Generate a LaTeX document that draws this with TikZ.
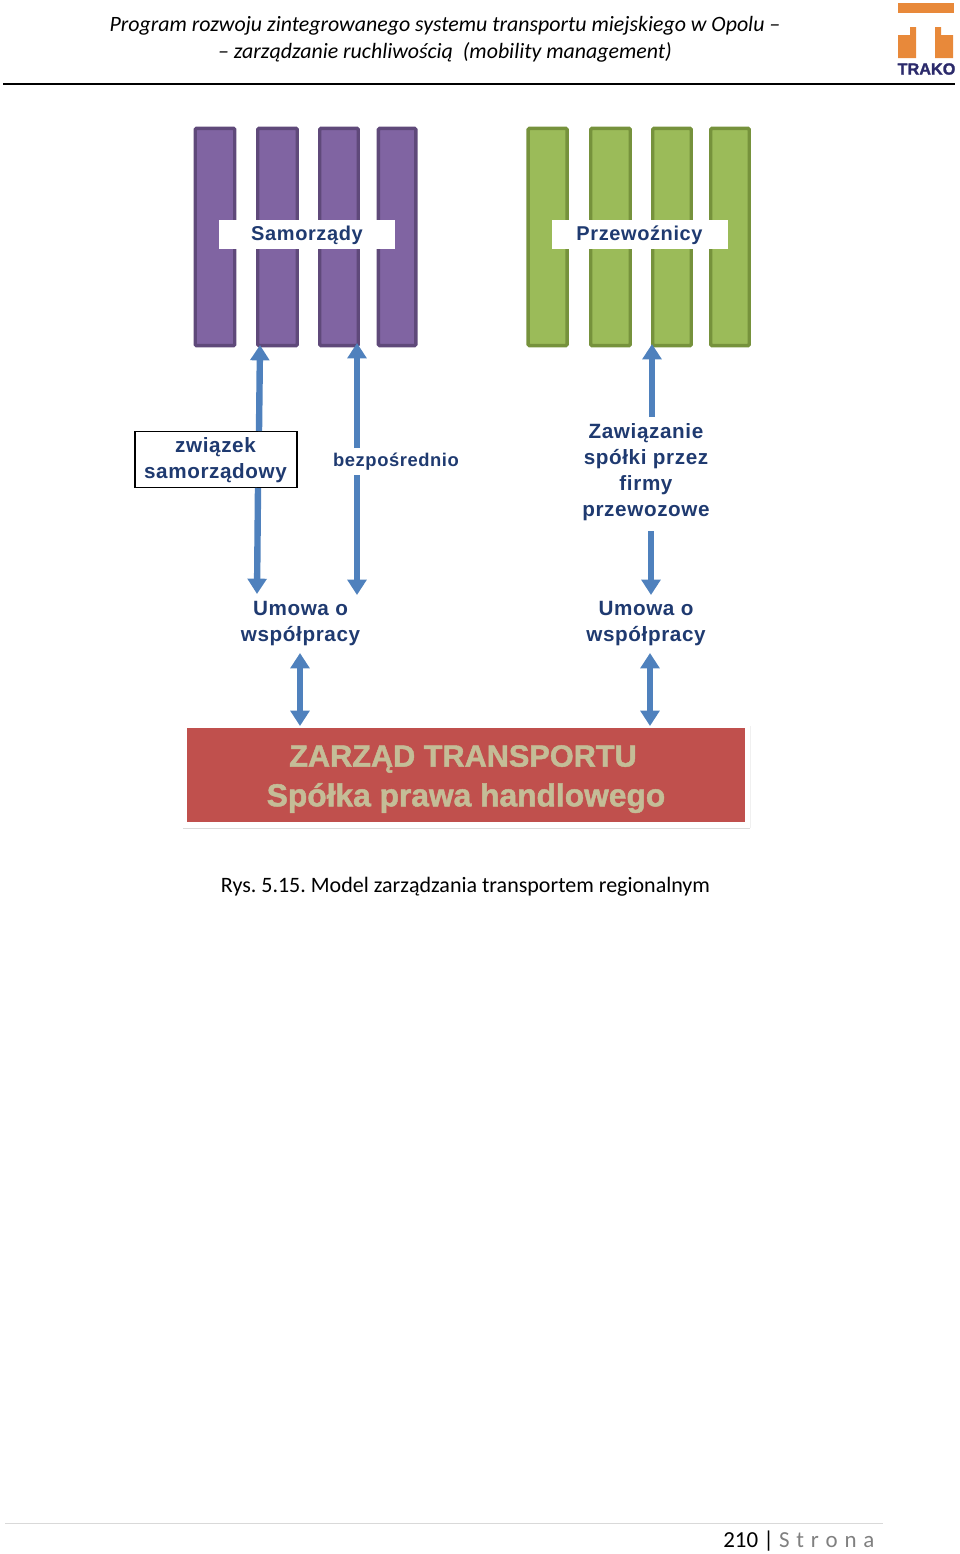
\documentclass[tikz,border=0pt]{standalone}
\usepackage{fontspec}
\setmainfont{Carlito}
\newfontfamily\lab[LetterSpace=3]{Liberation Sans}
\newfontfamily\hlab{Liberation Sans}
\newfontfamily\zfont[BoldFeatures={FakeBold=1.5}]{Liberation Sans}
\usetikzlibrary{arrows.meta}
\definecolor{purp}{HTML}{8064A2}
\definecolor{purpd}{HTML}{5F497A}
\definecolor{gree}{HTML}{9BBB59}
\definecolor{greed}{HTML}{76923C}
\definecolor{arrb}{HTML}{4F81BD}
\definecolor{navy}{HTML}{1F3A70}
\definecolor{redb}{HTML}{C0504D}
\definecolor{tan}{HTML}{C4BD97}
\definecolor{oran}{HTML}{E8893A}
\definecolor{trako}{HTML}{2B2A6B}
\tikzset{
 barp/.style={draw=purpd,fill=purp,line width=2.6pt,rounded corners=1pt,minimum height=217.3*0.75pt,outer sep=0pt,inner sep=0pt},
 barg/.style={draw=greed,fill=gree,line width=2.6pt,rounded corners=1pt,minimum height=217.3*0.75pt,outer sep=0pt,inner sep=0pt},
 whitelab/.style={fill=white,minimum width=132pt,minimum height=21.5pt,inner sep=0pt},
 whitetxt/.style={inner sep=0pt,font=\lab\bfseries\fontsize{15}{18}\selectfont,text=navy},
 difflab/.style={align=center,font=\lab\bfseries\fontsize{15.5}{19.5}\selectfont,text=navy,inner sep=0pt},
 arr/.style={draw=arrb,line width=4.8pt,-{Triangle[length=11.5pt,width=14pt]}},
 darr/.style={draw=arrb,line width=4.8pt,{Triangle[length=11.5pt,width=14pt]}-{Triangle[length=11.5pt,width=14pt]}},
}
\begin{document}
\begin{tikzpicture}[x=0.75pt,y=-0.75pt]
\useasboundingbox (0,0) rectangle (960,1554);
% header
\node[font=\itshape\fontsize{16.4}{20}\selectfont,align=center,inner sep=0pt] (head) at (445,39.5) {Program rozwoju zintegrowanego systemu transportu miejskiego w Opolu –\\– zarządzanie ruchliwością~ (mobility management)};
\draw[black,line width=1.2pt] (3,84) -- (955,84);
% logo
\fill[oran] (898,3) rectangle (954,13);
\fill[oran] (898,35) -- (910,35) -- (910,27) -- (916,27) -- (916,58) -- (898,58) -- cycle;
\fill[oran] (935,27) -- (941,27) -- (941,35) -- (953,35) -- (953,58) -- (935,58) -- cycle;
\node[font=\zfont\bfseries\fontsize{12.2}{14}\selectfont,text=trako,inner sep=0pt] (logo) at (926.5,69) {TRAKO};
% purple bars
\node[barp,minimum width=39.5pt*0.75] (s1) at (215,237) {};
\node[barp,minimum width=39.5pt*0.75] (s2) at (277.5,237) {};
\node[barp,minimum width=38.5pt*0.75] (s3) at (339,237) {};
\node[barp,minimum width=37.5pt*0.75] (s4) at (397.2,237) {};
\node[whitelab] (sam) at (307,234.5) {};
\node[whitetxt] (samt) at (307,235) {Samorządy};
% green bars
\node[barg,minimum width=39pt*0.75] (p1) at (547.7,237) {};
\node[barg,minimum width=39.5pt*0.75] (p2) at (610.5,237) {};
\node[barg,minimum width=38.5pt*0.75] (p3) at (672,237) {};
\node[barg,minimum width=38.5pt*0.75] (p4) at (730,237) {};
\node[whitelab] (prz) at (639.5,234.5) {};
\node[whitetxt] (przt) at (639.5,235) {Przewoźnicy};
% labels
\node[draw=black,fill=white,line width=0.8pt,minimum width=121.5pt,minimum height=42.5pt,inner sep=0pt] (zw) at (216,459.5) {};
\node[difflab] (zwt) at (215.5,460) {związek\\samorządowy};
\node[difflab,font=\lab\bfseries\fontsize{13.8}{19.5}\selectfont] (bez) at (396,462) {bezpośrednio};
\node[difflab] (zaw) at (646,472) {Zawiązanie\\spółki przez\\firmy\\przewozowe};
\node[difflab] (um1) at (300.5,624) {Umowa o\\współpracy};
\node[difflab] (um2) at (646,624) {Umowa o\\współpracy};
% red box
\node[minimum width=425pt,minimum height=76.5pt,inner sep=0pt,outer sep=0pt] (shadow) at (466.5,777) {};
\draw[black!14,line width=0.7pt] (shadow.south west) -- (shadow.south east);
\draw[black!6,line width=0.5pt] (shadow.south east) -- (shadow.north east);
\node[fill=redb,minimum width=418.5pt,minimum height=70.5pt,inner sep=0pt,outer sep=0pt] (zt) at (466,775) {};
\node[text=tan,inner sep=0pt,font=\zfont\bfseries\fontsize{23}{30}\selectfont] (zt1) at (463,759) {ZARZĄD TRANSPORTU};
\node[text=tan,inner sep=0pt,font=\zfont\bfseries\fontsize{23.8}{30}\selectfont] (zt2) at (466,798) {Spółka prawa handlowego};
% arrow anchors
\coordinate (a1t) at (260,345);
\coordinate (a1m) at (259,431);
\coordinate (a1b) at (258,488);
\coordinate (a1e) at (257,594);
\coordinate (a2t) at (357,343);
\coordinate (a2m) at (357,448);
\coordinate (a2b) at (357,475);
\coordinate (a2e) at (357,595);
\coordinate (a3t) at (652,344);
\coordinate (a3m) at (652,417);
\coordinate (a3b) at (651,531);
\coordinate (a3e) at (651,595);
\coordinate (d1t) at (300,653);
\coordinate (d1b) at (300,726);
\coordinate (d2t) at (650,653);
\coordinate (d2b) at (650,726);
\draw[arr] (a1m) -- (a1t);
\draw[arr] (a1b) -- (a1e);
\draw[arr] (a2m) -- (a2t);
\draw[arr] (a2b) -- (a2e);
\draw[arr] (a3m) -- (a3t);
\draw[arr] (a3b) -- (a3e);
\draw[darr] (d1t) -- (d1b);
\draw[darr] (d2t) -- (d2b);
% caption
\node[font=\fontsize{16.5}{20}\selectfont\frenchspacing,inner sep=0pt] (cap) at (465.5,887) {Rys. 5.15. Model zarządzania transportem regionalnym};
% footer
\draw[black!15,line width=0.6pt] (5,1523) -- (883,1523);
\node[font=\fontsize{17.2}{20}\selectfont,inner sep=0pt,anchor=west] (foot) at (723,1541) {210 | \textcolor{black!50}{S\kern5.1pt t\kern5.1pt r\kern5.1pt o\kern5.1pt n\kern5.1pt a}};
\end{tikzpicture}
\end{document}
